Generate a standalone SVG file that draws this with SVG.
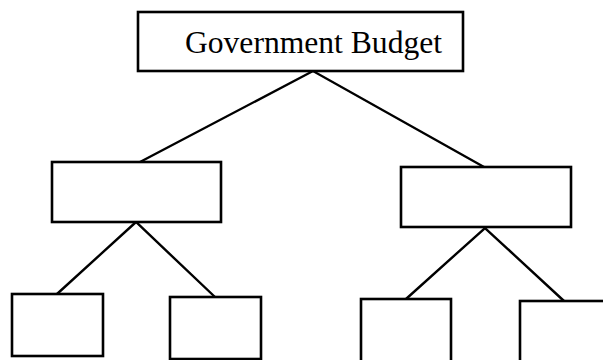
<svg xmlns="http://www.w3.org/2000/svg" width="603" height="360" viewBox="0 0 603 360">
  <style>
    .box { fill: #fff; stroke: #000; stroke-width: 2.6; }
    .link { fill: none; stroke: #000; stroke-width: 2.4; }
    .label { font-family: "Liberation Serif", "Times New Roman", serif; font-size: 31.6px; fill: #000; }
  </style>
  <rect width="603" height="360" fill="#fff"/>
  <g id="connectors">
    <polyline class="link" points="140,162 313,71 484,167"/>
    <polyline class="link" points="57,294 136,222 215,297"/>
    <polyline class="link" points="406,299 485,228 564,301"/>
  </g>
  <g id="budget">
    <rect class="box" x="138" y="12" width="325" height="59"/>
    <text class="label" x="313.5" y="53" text-anchor="middle">Government Budget</text>
  </g>
  <g id="mid-left">
    <rect class="box" x="52" y="162" width="169" height="60"/>
  </g>
  <g id="mid-right">
    <rect class="box" x="401" y="167" width="170" height="60"/>
  </g>
  <g id="leaf-1">
    <rect class="box" x="12" y="294" width="91" height="62"/>
  </g>
  <g id="leaf-2">
    <rect class="box" x="170" y="297" width="91" height="62"/>
  </g>
  <g id="leaf-3">
    <rect class="box" x="361" y="299" width="90" height="64"/>
  </g>
  <g id="leaf-4">
    <rect class="box" x="520" y="301" width="95" height="64"/>
  </g>
</svg>
